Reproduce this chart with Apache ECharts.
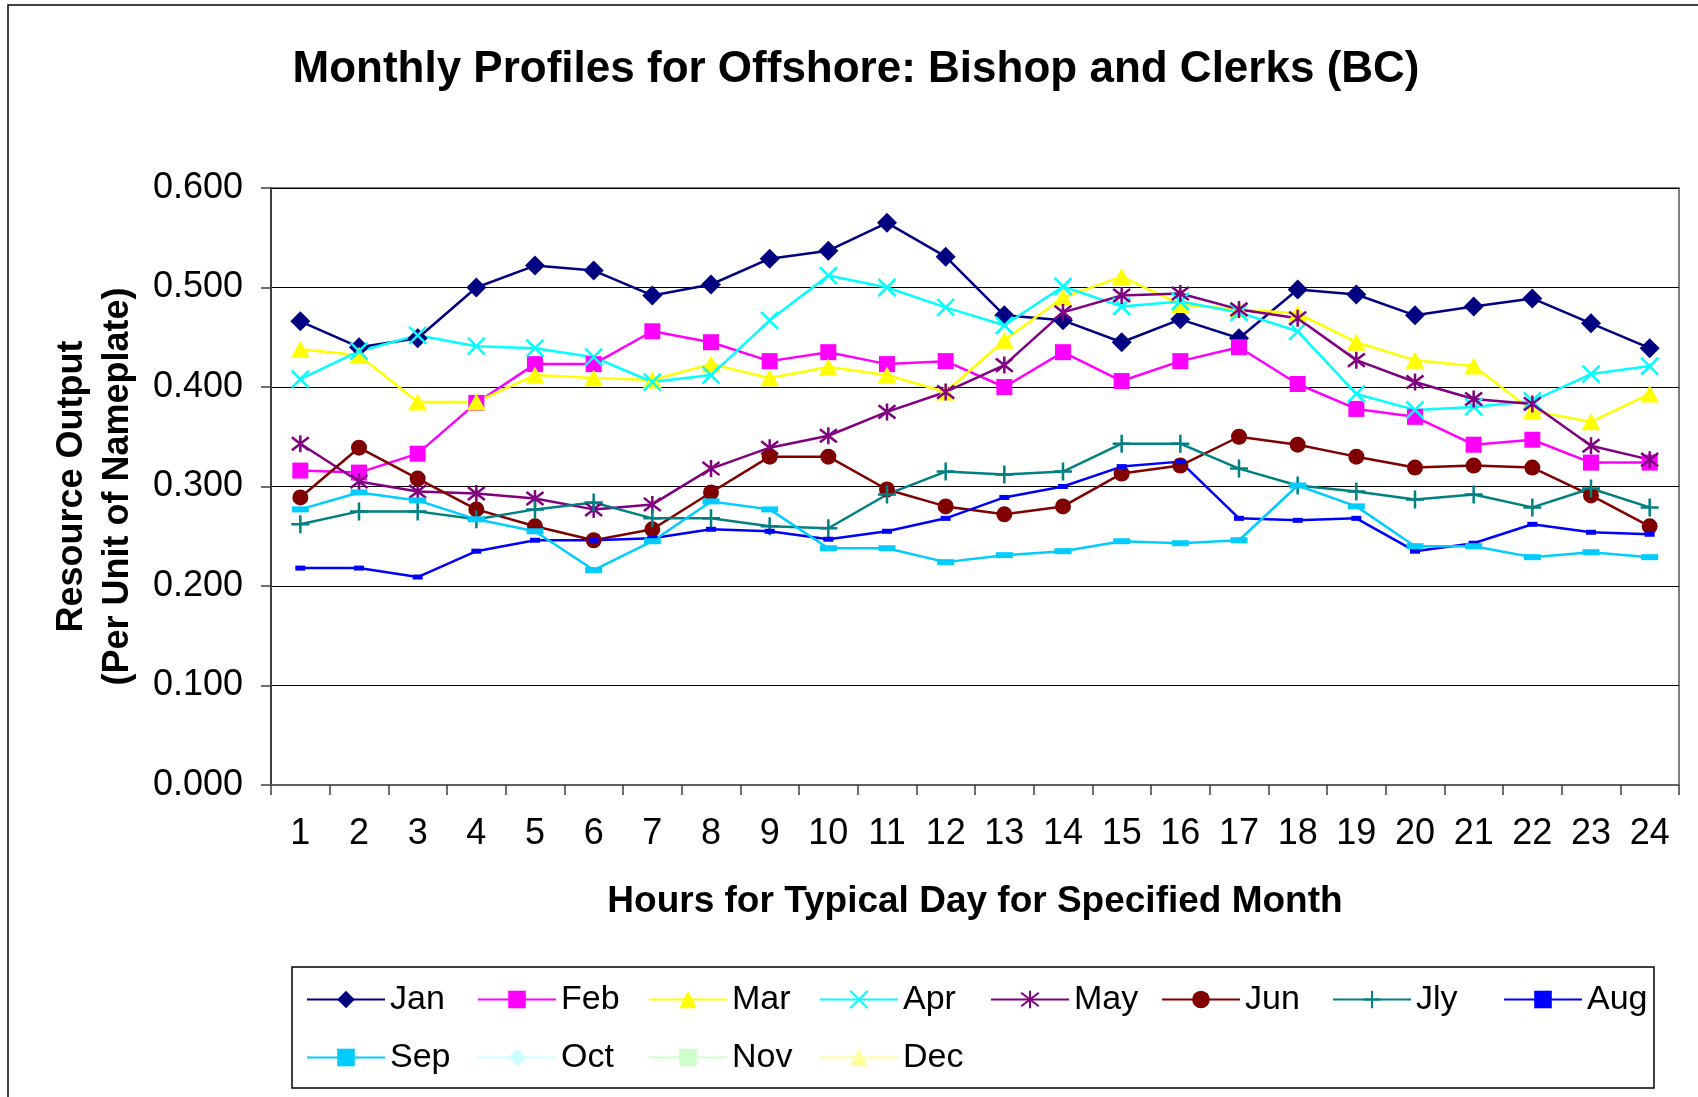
<!DOCTYPE html>
<html>
<head>
<meta charset="utf-8">
<title>Monthly Profiles for Offshore: Bishop and Clerks (BC)</title>
<script src="https://cdn.jsdelivr.net/npm/echarts@6/dist/echarts.min.js"></script>
<style>
    html, body { margin: 0; padding: 0; background: #fff; }
    #chart { width: 1698px; height: 1097px; }
</style>
</head>
<body>
<div id="chart"></div>
<script>
// 横轴：一天24小时
var hours = ['1', '2', '3', '4', '5', '6', '7', '8', '9', '10', '11', '12',
    '13', '14', '15', '16', '17', '18', '19', '20', '21', '22', '23', '24'];

// 各月数据
var jan = [0.466, 0.440, 0.449, 0.500, 0.522, 0.517, 0.492, 0.503, 0.529, 0.537, 0.565, 0.531,
    0.472, 0.467, 0.445, 0.468, 0.449, 0.498, 0.493, 0.472, 0.481, 0.489, 0.464, 0.439];
var feb = [0.316, 0.314, 0.333, 0.384, 0.423, 0.423, 0.456, 0.445, 0.426, 0.435, 0.423, 0.426,
    0.400, 0.435, 0.406, 0.426, 0.440, 0.403, 0.378, 0.370, 0.342, 0.347, 0.324, 0.324];
var mar = [0.438, 0.432, 0.385, 0.385, 0.412, 0.409, 0.407, 0.423, 0.409, 0.420, 0.412, 0.395,
    0.447, 0.490, 0.511, 0.483, 0.478, 0.474, 0.445, 0.427, 0.421, 0.376, 0.365, 0.393];
var apr = [0.408, 0.436, 0.452, 0.441, 0.439, 0.430, 0.405, 0.412, 0.467, 0.512, 0.500, 0.480,
    0.462, 0.501, 0.481, 0.486, 0.475, 0.456, 0.393, 0.377, 0.380, 0.386, 0.413, 0.421];
var may = [0.343, 0.305, 0.295, 0.293, 0.288, 0.277, 0.282, 0.318, 0.339, 0.351, 0.375, 0.395,
    0.422, 0.475, 0.492, 0.494, 0.478, 0.469, 0.427, 0.405, 0.388, 0.383, 0.341, 0.327];
var jun = [0.289, 0.339, 0.308, 0.277, 0.260, 0.246, 0.257, 0.294, 0.330, 0.330, 0.297, 0.280,
    0.272, 0.280, 0.313, 0.321, 0.350, 0.342, 0.330, 0.319, 0.321, 0.319, 0.291, 0.260];
var jly = [0.262, 0.275, 0.275, 0.267, 0.277, 0.284, 0.268, 0.268, 0.260, 0.258, 0.292, 0.315,
    0.312, 0.315, 0.343, 0.343, 0.318, 0.301, 0.295, 0.287, 0.292, 0.279, 0.298, 0.279];
var aug = [0.218, 0.218, 0.209, 0.235, 0.246, 0.246, 0.248, 0.257, 0.255, 0.247, 0.255, 0.268,
    0.289, 0.300, 0.320, 0.325, 0.268, 0.266, 0.268, 0.235, 0.243, 0.262, 0.254, 0.252];
var sep = [0.277, 0.294, 0.286, 0.267, 0.255, 0.216, 0.245, 0.285, 0.277, 0.238, 0.238, 0.224,
    0.231, 0.235, 0.245, 0.243, 0.246, 0.301, 0.280, 0.240, 0.240, 0.229, 0.234, 0.229];
// 10-12月没有数据，只出现在图例里
var oct = [];
var nov = [];
var dec = [];

var yTicks = [0, 0.1, 0.2, 0.3, 0.4, 0.5, 0.6];

var FONT = '"Liberation Sans", Arial, sans-serif';

// 自定义标记
var symX = 'path://M0,0L10,10M10,0L0,10';
var symStar = 'path://M0,0L10,10M10,0L0,10M5,-1.5L5,11.5';
var symPlus = 'path://M5,0L5,10M0,5L10,5';

function makeLine(name, data, color, symbol, size, border) {
    return {
        name: name,
        type: 'line',
        data: data,
        symbol: symbol,
        symbolSize: size,
        showAllSymbol: true,
        lineStyle: { color: color, width: 2.5 },
        itemStyle: { color: color, borderColor: color, borderWidth: border || 0 },
        emphasis: { disabled: true }
    };
}

var chart = echarts.init(document.getElementById('chart'));
var option = {
    backgroundColor: '#fff',
    animation: false,
    title: {
        text: 'Monthly Profiles for Offshore: Bishop and Clerks (BC)',
        left: 851,
        top: 43,
        textAlign: 'center',
        textStyle: { fontFamily: FONT, fontSize: 44, fontWeight: 'bold', color: '#000' }
    },
    graphic: [
        {
            type: 'rect',
            shape: { x: 8, y: 5, width: 1700, height: 1100 },
            style: { fill: 'none', stroke: '#000', lineWidth: 1.5 }
        },
        {
            type: 'rect',
            shape: { x: 292, y: 967, width: 1362, height: 121 },
            style: { fill: 'none', stroke: '#000', lineWidth: 1.5 }
        }
    ],
    legend: {
        left: 306,
        top: 974,
        width: 1400,
        padding: 0,
        itemWidth: 78,
        itemHeight: 22,
        itemGap: 7,
        textStyle: {
            fontFamily: FONT, fontSize: 34, color: '#000',
            width: 80, lineHeight: 51
        }
    },
    grid: {
        left: 271, top: 188, width: 1408, height: 597,
        show: true, borderColor: '#808080', borderWidth: 2,
        containLabel: false
    },
    xAxis: {
        type: 'category',
        data: hours,
        name: 'Hours for Typical Day for Specified Month',
        nameLocation: 'middle',
        nameGap: 98,
        nameTextStyle: { fontFamily: FONT, fontSize: 37, fontWeight: 'bold', color: '#000' },
        axisLine: { lineStyle: { color: '#606060', width: 2 } },
        axisTick: { show: true, length: 10, lineStyle: { color: '#404040', width: 1.5 } },
        axisLabel: { fontFamily: FONT, fontSize: 36, color: '#000', margin: 31, interval: 0 }
    },
    yAxis: {
        type: 'value',
        min: yTicks[0],
        max: yTicks[yTicks.length - 1],
        interval: 0.1,
        name: 'Resource Output\n(Per Unit of Nameplate)',
        nameLocation: 'middle',
        nameRotate: 90,
        nameGap: 130,
        nameTextStyle: { fontFamily: FONT, fontSize: 36, fontWeight: 'bold', color: '#000', lineHeight: 46 },
        axisLine: { show: true, lineStyle: { color: '#404040', width: 2 } },
        axisTick: { show: true, length: 10, lineStyle: { color: '#404040', width: 1.5 } },
        axisLabel: {
            fontFamily: FONT, fontSize: 36, color: '#000', margin: 28,
            formatter: function (v) { return v.toFixed(3); }
        },
        splitLine: { lineStyle: { color: '#000', width: 1.2 } }
    },
    series: [
        makeLine('Jan', jan, '#000080', 'diamond', 20),
        makeLine('Feb', feb, '#FF00FF', 'rect', 16),
        makeLine('Mar', mar, '#FFFF00', 'triangle', [19, 17]),
        makeLine('Apr', apr, '#00FFFF', symX, 17, 2.5),
        makeLine('May', may, '#800080', symStar, 17, 2.5),
        makeLine('Jun', jun, '#800000', 'circle', 16),
        makeLine('Jly', jly, '#008080', symPlus, 18, 2.5),
        makeLine('Aug', aug, '#0000FF', 'rect', [10, 5]),
        makeLine('Sep', sep, '#00CCFF', 'rect', [17, 6]),
        makeLine('Oct', oct, '#CCFFFF', 'diamond', 20),
        makeLine('Nov', nov, '#CCFFCC', 'rect', 16),
        makeLine('Dec', dec, '#FFFF99', 'triangle', [19, 17])
    ]
};
chart.setOption(option);
</script>
</body>
</html>
